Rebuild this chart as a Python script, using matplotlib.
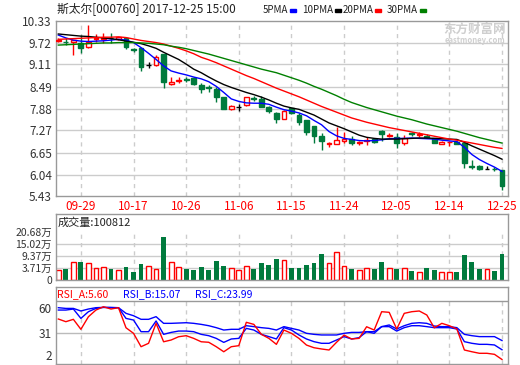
import numpy as np
import matplotlib.pyplot as plt
from matplotlib.patches import Rectangle

plt.rcParams['font.family'] = ['Noto Sans CJK SC', 'DejaVu Sans']

# trading days shown on the chart
dates = ['09-26', '09-27', '09-28', '09-29', '10-09', '10-10', '10-11', '10-12', '10-13', '10-16',
         '10-17', '10-18', '10-19', '10-20', '10-23', '10-24', '10-25', '10-26', '10-27', '10-30',
         '10-31', '11-01', '11-02', '11-03', '11-06', '11-07', '11-08', '11-09', '11-10', '11-13',
         '11-14', '11-15', '11-16', '11-17', '11-20', '11-21', '11-22', '11-23', '11-24', '11-27',
         '11-28', '11-29', '11-30', '12-01', '12-04', '12-05', '12-06', '12-07', '12-08', '12-11',
         '12-12', '12-13', '12-14', '12-15', '12-18', '12-19', '12-20', '12-21', '12-22', '12-25']

opens = [9.77, 9.75, 9.73, 9.70, 9.59, 9.82, 9.81, 9.86, 9.82, 9.84,
         9.54, 9.56, 9.09, 9.09, 9.40, 8.56, 8.66, 8.71, 8.72, 8.54,
         8.47, 8.42, 8.20, 7.87, 7.93, 7.98, 8.18, 8.14, 7.92, 7.77,
         7.60, 7.89, 7.70, 7.56, 7.40, 7.12, 6.88, 6.89, 6.98, 7.02,
         6.92, 6.98, 7.03, 7.26, 7.13, 7.10, 6.92, 7.20, 7.14, 7.12,
         7.05, 6.89, 6.94, 6.96, 6.93, 6.28, 6.28, 6.19, 6.21, 6.17]
highs = [9.86, 9.84, 9.80, 9.93, 10.21, 9.95, 9.98, 9.98, 9.88, 9.86,
         9.57, 9.57, 9.18, 9.37, 9.40, 8.76, 8.77, 8.77, 8.77, 8.59,
         8.54, 8.49, 8.20, 7.98, 8.00, 8.21, 8.24, 8.22, 7.96, 7.78,
         7.84, 7.91, 7.75, 7.56, 7.40, 7.19, 6.96, 7.38, 7.23, 7.13,
         6.99, 7.08, 7.05, 7.27, 7.21, 7.19, 7.14, 7.23, 7.22, 7.16,
         7.06, 6.97, 6.99, 6.97, 6.95, 6.45, 6.30, 6.27, 6.26, 6.17]
lows = [9.73, 9.66, 9.37, 9.44, 9.58, 9.74, 9.72, 9.72, 9.80, 9.55,
        9.47, 8.94, 9.00, 9.07, 8.45, 8.53, 8.59, 8.63, 8.55, 8.31,
        8.35, 8.07, 7.87, 7.85, 7.82, 7.96, 8.08, 7.93, 7.76, 7.47,
        7.59, 7.74, 7.43, 7.15, 6.91, 6.73, 6.82, 6.88, 6.92, 6.87,
        6.87, 6.87, 6.93, 6.97, 7.08, 6.78, 6.87, 7.12, 7.10, 7.05,
        6.92, 6.88, 6.85, 6.88, 6.22, 6.19, 6.18, 6.19, 6.14, 5.61]
closes = [9.79, 9.73, 9.79, 9.56, 9.75, 9.84, 9.86, 9.84, 9.87, 9.59,
          9.52, 9.05, 9.09, 9.33, 8.63, 8.63, 8.68, 8.69, 8.56, 8.42,
          8.45, 8.20, 7.87, 7.95, 7.93, 8.20, 8.16, 7.93, 7.80, 7.59,
          7.81, 7.75, 7.52, 7.24, 7.13, 6.98, 6.91, 7.00, 7.03, 6.93,
          6.94, 7.00, 6.96, 7.17, 7.15, 6.92, 7.06, 7.18, 7.16, 7.10,
          6.93, 6.96, 6.96, 6.90, 6.36, 6.26, 6.20, 6.19, 6.19, 5.71]

ma5 = [9.93, 9.85, 9.79, 9.76, 9.75, 9.76, 9.77, 9.79, 9.81, 9.79,
       9.72, 9.58, 9.42, 9.25, 9.07, 8.93, 8.87, 8.82, 8.76, 8.71,
       8.63, 8.50, 8.33, 8.15, 8.08, 8.04, 8.03, 8.03, 8.00, 7.92,
       7.85, 7.81, 7.76, 7.68, 7.55, 7.43, 7.24, 7.12, 7.05, 7.02,
       6.99, 6.98, 6.99, 7.01, 7.04, 7.05, 7.05, 7.06, 7.05, 7.04,
       7.03, 7.00, 6.98, 6.96, 6.80, 6.60, 6.46, 6.35, 6.25, 6.13]
ma10 = [9.96, 9.94, 9.92, 9.90, 9.89, 9.87, 9.85, 9.83, 9.80, 9.76,
        9.73, 9.69, 9.63, 9.56, 9.45, 9.35, 9.25, 9.12, 8.98, 8.88,
        8.76, 8.65, 8.55, 8.47, 8.40, 8.33, 8.27, 8.20, 8.12, 8.03,
        7.95, 7.90, 7.86, 7.78, 7.70, 7.59, 7.48, 7.40, 7.32, 7.23,
        7.14, 7.08, 7.05, 7.03, 7.03, 7.03, 7.04, 7.05, 7.06, 7.06,
        7.05, 7.04, 7.03, 7.02, 6.94, 6.84, 6.75, 6.66, 6.57, 6.47]
ma20 = [9.81, 9.82, 9.83, 9.84, 9.85, 9.86, 9.87, 9.87, 9.88, 9.86,
        9.82, 9.78, 9.75, 9.72, 9.68, 9.62, 9.56, 9.49, 9.41, 9.31,
        9.24, 9.16, 9.07, 8.98, 8.89, 8.80, 8.72, 8.63, 8.54, 8.45,
        8.37, 8.29, 8.21, 8.12, 8.03, 7.94, 7.86, 7.78, 7.70, 7.62,
        7.56, 7.50, 7.45, 7.40, 7.35, 7.31, 7.27, 7.23, 7.19, 7.15,
        7.11, 7.07, 7.03, 7.00, 6.96, 6.92, 6.88, 6.84, 6.80, 6.77]
ma30 = [9.65, 9.66, 9.67, 9.68, 9.69, 9.70, 9.71, 9.71, 9.72, 9.72,
        9.72, 9.71, 9.70, 9.68, 9.66, 9.62, 9.59, 9.55, 9.50, 9.45,
        9.40, 9.34, 9.28, 9.22, 9.16, 9.10, 9.04, 8.98, 8.93, 8.88,
        8.81, 8.74, 8.67, 8.59, 8.50, 8.42, 8.33, 8.24, 8.14, 8.05,
        7.98, 7.91, 7.85, 7.79, 7.73, 7.67, 7.62, 7.57, 7.51, 7.45,
        7.40, 7.35, 7.30, 7.25, 7.19, 7.13, 7.07, 7.02, 6.97, 6.92]

# volume in 万, as read against the panel's own scale
volume = [2.77, 3.24, 6.37, 6.55, 5.91, 3.56, 4.33, 3.24, 2.77, 4.03,
          1.83, 5.44, 4.79, 3.24, 18.20, 6.37, 4.03, 3.24, 2.77, 4.03,
          2.77, 7.02, 4.50, 3.56, 2.77, 4.79, 3.24, 5.91, 5.12, 7.96,
          7.49, 3.86, 3.86, 5.12, 6.06, 10.31, 5.91, 11.10, 4.65, 3.24,
          2.77, 3.56, 3.24, 6.37, 3.56, 3.24, 3.56, 2.30, 1.98, 3.56,
          2.77, 1.98, 1.98, 1.66, 9.84, 6.37, 3.24, 3.24, 2.30, 10.0812]

rsi_a = [44.9, 42.3, 44.6, 34.9, 47.1, 53.6, 56.8, 54.6, 55.9, 36.4,
         31.0, 18.0, 21.3, 40.7, 22.8, 24.5, 27.7, 28.7, 26.1, 22.8,
         22.3, 18.0, 13.1, 18.0, 19.0, 41.7, 39.7, 30.0, 26.1, 20.3,
         34.2, 31.0, 26.1, 19.6, 17.0, 15.8, 14.8, 22.3, 29.3, 25.5,
         26.1, 37.4, 34.2, 52.0, 51.4, 35.2, 50.4, 52.0, 52.7, 48.8,
         36.4, 40.7, 38.4, 35.2, 14.8, 13.1, 11.6, 11.6, 10.6, 5.60]
rsi_b = [53.6, 53.6, 54.6, 45.5, 52.0, 55.2, 56.2, 55.9, 55.9, 45.5,
         43.9, 32.6, 32.6, 43.0, 30.0, 31.9, 33.2, 33.2, 32.6, 30.0,
         28.7, 26.1, 22.2, 25.5, 26.1, 35.8, 34.2, 30.0, 27.8, 25.5,
         36.5, 34.2, 29.4, 25.5, 22.9, 21.3, 21.3, 24.5, 27.8, 25.5,
         26.8, 32.6, 31.0, 37.5, 37.5, 33.2, 36.5, 38.4, 38.4, 37.5,
         36.5, 36.5, 36.5, 35.2, 22.9, 21.3, 20.3, 20.3, 19.7, 15.07]
rsi_c = [55.9, 55.2, 55.2, 52.7, 54.6, 55.9, 56.2, 56.2, 55.9, 50.4,
         48.1, 44.6, 44.6, 47.2, 40.7, 40.7, 41.0, 41.3, 40.7, 39.7,
         38.4, 36.5, 34.2, 34.9, 34.9, 38.4, 37.5, 36.5, 35.8, 34.2,
         37.5, 35.8, 34.2, 31.0, 30.0, 29.4, 29.4, 29.4, 31.0, 31.9,
         31.9, 32.6, 32.6, 37.5, 39.1, 35.2, 38.4, 40.7, 41.3, 40.7,
         38.1, 37.5, 37.5, 36.5, 30.0, 28.7, 27.8, 27.8, 27.8, 23.99]

price_ticks = [10.33, 9.72, 9.11, 8.49, 7.88, 7.27, 6.65, 6.04, 5.43]
vol_ticks = [3.71, 9.37, 15.02, 20.68]
vol_labels = ['3.71万', '9.37万', '15.02万', '20.68万']
rsi_ticks = [60, 31, 2]

RED = '#ff0000'
GREEN = '#007a3d'
BLUE = '#0000ff'
GRID = '#cccccc'
FRAME = '#999999'
TXT = '#333333'

W, H = 520, 365
fig = plt.figure(figsize=(W / 100, H / 100), dpi=100)
fig.patch.set_facecolor('white')


def panel(x0, y0, x1, y1):
    a = fig.add_axes([x0 / W, 1 - y1 / H, (x1 - x0) / W, (y1 - y0) / H])
    for s in a.spines.values():
        s.set_color(FRAME)
        s.set_linewidth(1)
    a.tick_params(length=0, colors=TXT, labelsize=8.5, pad=3)
    a.set_xlim(-0.31, 59.8)
    return a


x = np.arange(len(dates))
o = np.array(opens)
c = np.array(closes)
bw = 0.64
date_idx = x[3::7]

# ---- price panel ----
ax = panel(56, 20.7, 508, 196.5)
ax.set_ylim(5.43, 10.33)
for t in price_ticks[1:-1]:
    ax.axhline(t, color=GRID, lw=1, zorder=0)
ax.vlines(date_idx, 5.43, 10.33, color=GRID, lw=1, linestyles=(0, (3, 3)), zorder=0)

for i in x:
    if c[i] > o[i]:
        col = RED
    elif c[i] < o[i]:
        col = GREEN
    else:
        col = 'black'
    ax.vlines(i, lows[i], highs[i], color=col, lw=1, zorder=2)
    if c[i] == o[i]:
        ax.hlines(c[i], i - bw / 2, i + bw / 2, color=col, lw=1, zorder=3)
    else:
        face = 'white' if c[i] > o[i] else col
        ax.add_patch(Rectangle((i - bw / 2, min(o[i], c[i])), bw, abs(c[i] - o[i]),
                               facecolor=face, edgecolor=col, lw=1, zorder=3))

ax.plot(x, ma5, color=BLUE, lw=1, zorder=4)
ax.plot(x, ma10, color='black', lw=1, zorder=4)
ax.plot(x, ma20, color=RED, lw=1, zorder=4)
ax.plot(x, ma30, color='#008000', lw=1, zorder=4)

ax.set_yticks(price_ticks)
ax.set_yticklabels([f'{t:.2f}' for t in price_ticks])
ax.set_xticks(date_idx)
ax.set_xticklabels([dates[i] for i in date_idx], color=RED)
ax.tick_params(axis='x', pad=2.5)

ax.text(0.995, 0.953, '东方财富网', transform=ax.transAxes, ha='right', va='center',
        fontsize=9, fontweight='bold', color='#cfcfcf', zorder=1)
ax.text(0.995, 0.888, 'eastmoney.com', transform=ax.transAxes, ha='right', va='center',
        fontsize=5.5, fontweight='bold', color='#cfcfcf', zorder=1)

fig.text(57 / W, 1 - 9.5 / H, '斯太尔[000760] 2017-12-25 15:00', va='center',
         fontsize=8.5, color='#222222')

# legend: name followed by a small colour mark
legend = [('5PMA', 263, BLUE), ('10PMA', 302, 'black'),
          ('20PMA', 343, RED), ('30PMA', 387, '#008000')]
renderer = fig.canvas.get_renderer()
for name, tx, col in legend:
    t = fig.text(tx / W, 1 - 10 / H, name, va='center', fontsize=7, color='#222222')
    bb = t.get_window_extent(renderer)
    fig.patches.append(Rectangle(((bb.x1 + 1.5) / W, 1 - 11.5 / H), 6 / W, 3 / H,
                                 transform=fig.transFigure, color=col))

# ---- volume panel ----
per_px = (vol_ticks[1] - vol_ticks[0]) / 12
vbot = vol_ticks[0] - 12 * per_px
vtop = vol_ticks[-1] + 18 * per_px
axv = panel(56, 214, 508, 280)
axv.set_ylim(vbot, vtop)
for t in vol_ticks[:-1]:
    axv.axhline(t, color=GRID, lw=1, zorder=0)
axv.vlines(date_idx, vbot, vol_ticks[-1], color=GRID, lw=1, linestyles=(0, (3, 3)), zorder=0)
vol = np.array(volume)
up = c >= o
axv.bar(x[up], vol[up] - vbot, bw, bottom=vbot, facecolor='white', edgecolor=RED,
        lw=1, zorder=2)
axv.bar(x[~up], vol[~up] - vbot, bw, bottom=vbot, color=GREEN, zorder=2)
axv.set_xticks([])
axv.set_yticks([vbot] + vol_ticks)
axv.set_yticklabels(['0'] + vol_labels, fontsize=7.5)
axv.text(0.003, 1 - 8.5 / 66, f'成交量:{volume[-1] * 10000:.0f}', transform=axv.transAxes,
         va='center', fontsize=8, color='#222222')

# ---- RSI panel ----
axr = panel(56, 287, 508, 364)
rlo, rhi, rtop = 1.2, 62.4, 76.0
axr.set_ylim(rlo, rtop)
axr.axhline(rhi, color=FRAME, lw=1)
axr.axhline(31, color='#bbbbbb', lw=1, zorder=0)
axr.vlines(date_idx, rlo, rhi, color=GRID, lw=1, linestyles=(0, (3, 3)), zorder=0)
axr.plot(x, rsi_c, color=BLUE, lw=1)
axr.plot(x, rsi_b, color=BLUE, lw=1)
axr.plot(x, rsi_a, color=RED, lw=1)
axr.set_xticks([])
axr.set_yticks(rsi_ticks)
axr.set_yticklabels([str(t) for t in rsi_ticks])
labs = axr.get_yticklabels()
labs[0].set_va('top')
labs[2].set_va('bottom')
hy = 1 - 7 / 77
axr.text(0.003, hy, f'RSI_A:{rsi_a[-1]:.2f}', transform=axr.transAxes, va='center',
         fontsize=7.5, color=RED)
axr.text(0.148, hy, f'RSI_B:{rsi_b[-1]:.2f}', transform=axr.transAxes, va='center',
         fontsize=7.5, color=BLUE)
axr.text(0.307, hy, f'RSI_C:{rsi_c[-1]:.2f}', transform=axr.transAxes, va='center',
         fontsize=7.5, color=BLUE)

fig.savefig('out.png', dpi=100)
